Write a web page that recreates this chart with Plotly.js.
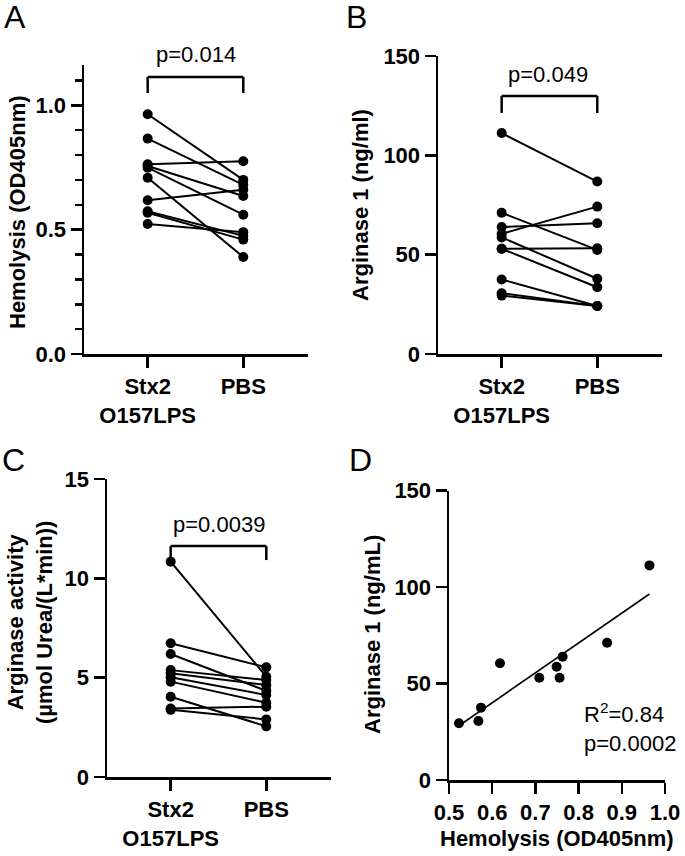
<!DOCTYPE html>
<html>
<head>
<meta charset="utf-8">
<script src="https://cdn.plot.ly/plotly-3.0.1.min.js"></script>
<style>html,body{margin:0;padding:0;background:#fff;}#chart{width:685px;height:856px;}</style>
</head>
<body>
<div id="chart"></div>
<script>
// ---- data (one entry per donor, same order in every array) ----
const groups = ["Stx2<br>O157LPS", "PBS"];
const hemolysisStx2 = [0.964, 0.866, 0.763, 0.756, 0.749, 0.709, 0.618, 0.574, 0.568, 0.523];
const hemolysisPBS  = [0.700, 0.680, 0.775, 0.635, 0.560, 0.390, 0.660, 0.475, 0.460, 0.490];
const arginase1Stx2 = [111.2, 71.1, 63.9, 53.0, 58.7, 53.0, 60.5, 37.5, 30.6, 29.4];
const arginase1PBS  = [86.8, 52.4, 65.8, 53.2, 37.9, 33.6, 74.2, 24.2, 24.2, 24.2];
const activityStx2  = [10.84, 6.73, 6.19, 5.38, 5.22, 5.02, 4.80, 4.04, 3.45, 3.38];
const activityPBS   = [5.05, 5.52, 4.34, 4.88, 4.63, 4.13, 3.74, 2.55, 3.54, 2.90];
const pValues = ["p=0.014", "p=0.049", "p=0.0039"];
const corrText = ["R<sup>2</sup>=0.84", "p=0.0002"];

// ---- helpers ----
const W = 685, H = 856;
const fx = px => px / W;
const fy = px => 1 - px / H;
const FONT = "Liberation Sans, Arial, sans-serif";
const traces = [];

function paired(stx, pbs, xa, ya) {
  for (let i = 0; i < stx.length; i++) {
    traces.push({
      type: "scatter", mode: "lines+markers",
      x: groups, y: [stx[i], pbs[i]],
      xaxis: xa, yaxis: ya,
      line: {color: "black", width: 2},
      marker: {color: "black", size: 10},
      cliponaxis: false, hoverinfo: "skip"
    });
  }
}
paired(hemolysisStx2, hemolysisPBS, "x", "y");
paired(arginase1Stx2, arginase1PBS, "x2", "y2");
paired(activityStx2, activityPBS, "x3", "y3");

// scatter D + least squares line
const n = hemolysisStx2.length;
const mx = hemolysisStx2.reduce((a, b) => a + b, 0) / n;
const my = arginase1Stx2.reduce((a, b) => a + b, 0) / n;
let sxy = 0, sxx = 0;
for (let i = 0; i < n; i++) {
  sxy += (hemolysisStx2[i] - mx) * (arginase1Stx2[i] - my);
  sxx += (hemolysisStx2[i] - mx) ** 2;
}
const slope = sxy / sxx, icpt = my - slope * mx;
const xmin = Math.min(...hemolysisStx2), xmax = Math.max(...hemolysisStx2);
traces.push({
  type: "scatter", mode: "lines", x: [xmin, xmax], y: [icpt + slope * xmin, icpt + slope * xmax],
  xaxis: "x4", yaxis: "y4", line: {color: "black", width: 1.6}, hoverinfo: "skip"
});
traces.push({
  type: "scatter", mode: "markers", x: hemolysisStx2, y: arginase1Stx2,
  xaxis: "x4", yaxis: "y4", marker: {color: "black", size: 10}, cliponaxis: false, hoverinfo: "skip"
});

const tickFont = {family: FONT, size: 22, color: "black", weight: "bold"};
const baseAx = {
  showline: true, linecolor: "black", linewidth: 2.5,
  ticks: "outside", ticklen: 11, tickwidth: 2.5, tickcolor: "black",
  showgrid: false, zeroline: false, tickfont: tickFont, fixedrange: true
};
const catAx = (dom, anchor) => Object.assign({}, baseAx, {
  type: "category", domain: dom, anchor: anchor, range: [-0.666, 1.677]
});

const layout = {
  width: W, height: H, margin: {l: 0, r: 0, t: 0, b: 0},
  paper_bgcolor: "white", plot_bgcolor: "white", showlegend: false,
  font: {family: FONT, color: "black"},
  xaxis:  catAx([fx(84), fx(308)], "y"),
  yaxis:  Object.assign({}, baseAx, {domain: [fy(354), fy(65)], anchor: "x", range: [0, 1.162],
           tick0: 0, dtick: 0.5, tickformat: ".1f",
           minor: {dtick: 0.1, ticks: "outside", ticklen: 7, tickwidth: 2.5, tickcolor: "black", showgrid: false}}),
  xaxis2: catAx([fx(438), fx(662)], "y2"),
  yaxis2: Object.assign({}, baseAx, {domain: [fy(354), fy(56)], anchor: "x2", range: [0, 150], tick0: 0, dtick: 50}),
  xaxis3: catAx([fx(107), fx(331)], "y3"),
  yaxis3: Object.assign({}, baseAx, {domain: [fy(777), fy(479)], anchor: "x3", range: [0, 15], tick0: 0, dtick: 5}),
  xaxis4: Object.assign({}, baseAx, {domain: [fx(449), fx(665)], anchor: "y4", range: [0.5, 1.0], tick0: 0.5, dtick: 0.1, tickformat: ".1f"}),
  yaxis4: Object.assign({}, baseAx, {domain: [fy(780), fy(490.5)], anchor: "x4", range: [0, 150], tick0: 0, dtick: 50}),
  shapes: [],
  annotations: []
};

function bracket(xa, ya, top, bot) {
  const s = {type: "line", xref: xa, yref: ya, line: {color: "black", width: 2.5}};
  layout.shapes.push(Object.assign({}, s, {x0: 0, x1: 0, y0: bot, y1: top}));
  layout.shapes.push(Object.assign({}, s, {x0: 0, x1: 1, y0: top, y1: top}));
  layout.shapes.push(Object.assign({}, s, {x0: 1, x1: 1, y0: top, y1: bot}));
}
bracket("x", "y", 1.114, 1.049);
bracket("x2", "y2", 129.9, 121.3);
bracket("x3", "y3", 11.63, 10.92);

function ann(text, x, y, opts) {
  layout.annotations.push(Object.assign({
    text: text, x: fx(x), y: fy(y), xref: "paper", yref: "paper",
    showarrow: false, xanchor: "center", yanchor: "middle",
    font: {family: FONT, size: 22, color: "black"}
  }, opts || {}));
}
const boldTitle = {family: FONT, size: 22, color: "black", weight: "bold"};
// panel letters
ann("A", 15, 17, {font: {family: FONT, size: 32, color: "black"}});
ann("B", 356, 17, {font: {family: FONT, size: 32, color: "black"}});
ann("C", 13, 460, {font: {family: FONT, size: 32, color: "black"}});
ann("D", 361, 460, {font: {family: FONT, size: 32, color: "black"}});
// axis titles
ann("Hemolysis (OD405nm)", 18, 212, {textangle: -90, font: boldTitle});
ann("Arginase 1 (ng/ml)", 360, 205, {textangle: -90, font: boldTitle});
ann("Arginase activity<br>(µmol Urea/(L*min))", 30, 623, {textangle: -90, font: boldTitle});
ann("Arginase 1 (ng/mL)", 372, 635, {textangle: -90, font: boldTitle});
ann("Hemolysis (OD405nm)", 557, 838, {font: boldTitle});
// p values
ann(pValues[0], 196, 55);
ann(pValues[1], 548, 74);
ann(pValues[2], 219, 524);
ann(corrText.join("<br>"), 582, 727, {xanchor: "left", align: "left"});

Plotly.newPlot("chart", traces, layout, {staticPlot: true, displayModeBar: false});
</script>
</body>
</html>
